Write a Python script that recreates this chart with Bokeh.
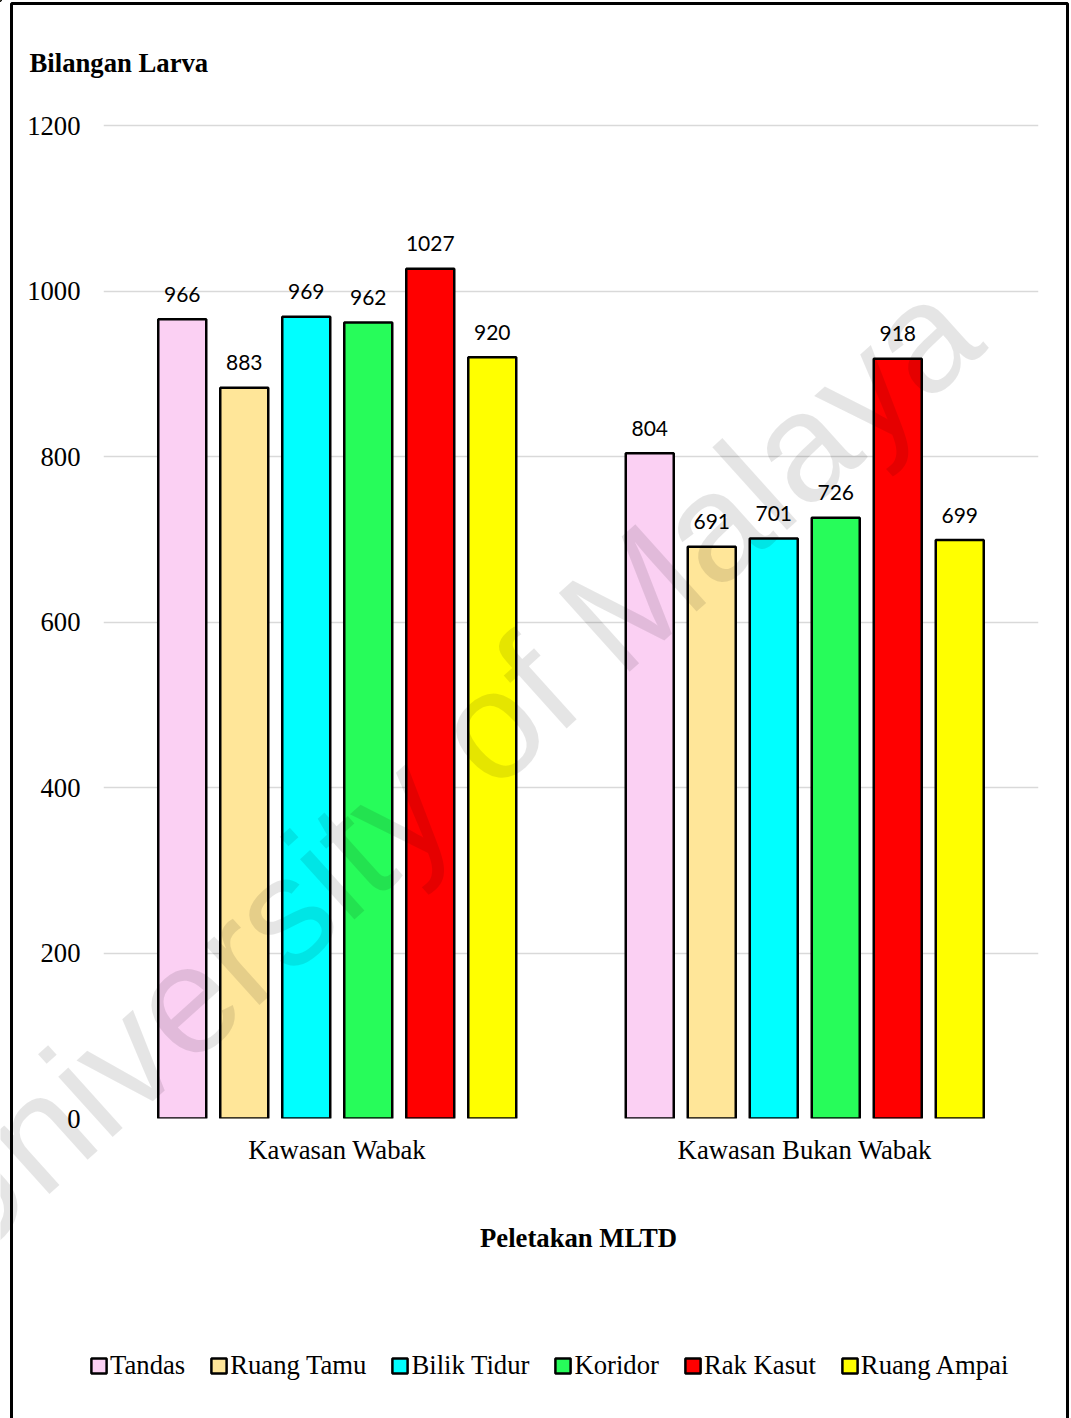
from bokeh.plotting import figure
from bokeh.models import (FactorRange, Range1d, Legend, LegendItem, FixedTicker,
                          ColumnDataSource)
from bokeh.transform import dodge
from bokeh.core.properties import value
from bokeh.embed import file_html
from bokeh.resources import INLINE

# ---- data ----
areas = ["Kawasan Wabak", "Kawasan Bukan Wabak"]
locations = ["Tandas", "Ruang Tamu", "Bilik Tidur", "Koridor", "Rak Kasut", "Ruang Ampai"]
tandas = [966, 804]
ruang_tamu = [883, 691]
bilik_tidur = [969, 701]
koridor = [962, 726]
rak_kasut = [1027, 918]
ruang_ampai = [920, 699]
y_ticks = [0, 200, 400, 600, 800, 1000, 1200]

series = [tandas, ruang_tamu, bilik_tidur, koridor, rak_kasut, ruang_ampai]
colors = ["#FBD0F3", "#FFE699", "#00FFFF", "#27FC5A", "#FF0000", "#FFFF00"]

SERIF = "Liberation Serif"
FS = "26.7px"
W, H = 1071, 1418
LEFT, RIGHT, TOP, BOTTOM = 103, 33, 123, 300
Y_MAX = 1200 + 2 / ((H - TOP - BOTTOM - 2) / 1200)

# ---- main chart ----
p = figure(width=W, height=H, x_range=FactorRange(*areas), y_range=Range1d(0, Y_MAX),
           output_backend="svg", toolbar_location=None,
           min_border_left=LEFT, min_border_right=RIGHT,
           min_border_top=TOP, min_border_bottom=BOTTOM)
p.outline_line_color = None
p.background_fill_color = "white"
p.border_fill_color = "white"

p.xgrid.grid_line_color = None
p.ygrid.grid_line_color = "#d9d9d9"
p.ygrid.grid_line_width = 1.5
p.ygrid.ticker = FixedTicker(ticks=y_ticks)

p.yaxis.ticker = FixedTicker(ticks=y_ticks)
p.yaxis.axis_line_color = None
p.yaxis.major_tick_line_color = None
p.yaxis.minor_tick_line_color = None
p.yaxis.major_label_text_font = SERIF
p.yaxis.major_label_text_font_size = FS
p.yaxis.major_label_text_color = "#000000"
p.yaxis.major_label_standoff = 17

p.xaxis.axis_line_color = None
p.xaxis.major_tick_line_color = None
p.xaxis.minor_tick_line_color = None
p.xaxis.major_label_text_font = SERIF
p.xaxis.major_label_text_font_size = FS
p.xaxis.major_label_text_color = "#000000"
p.xaxis.major_label_standoff = 10

cat_px = (W - LEFT - RIGHT) / len(areas)
step = 62 / cat_px
bar_w = 48 / cat_px
n = len(locations)
for i, (vals, col) in enumerate(zip(series, colors)):
    off = (i - (n - 1) / 2) * step
    src = ColumnDataSource(dict(area=areas, val=vals, lbl=[str(v) for v in vals]))
    p.vbar(x=dodge("area", off, range=p.x_range), top="val", width=bar_w, source=src,
           fill_color=col, line_color="#000000", line_width=2.5)
    p.text(x=dodge("area", off, range=p.x_range), y="val", text="lbl", source=src,
           text_align="center", text_baseline="alphabetic", y_offset=-25,
           text_font=value("Lato"), text_font_size="21px", text_color="#000000")

# ---- overlay: frame line, titles, legend, watermark (pixel coordinates) ----
q = figure(width=W, height=H, x_range=Range1d(0, W), y_range=Range1d(H, 0),
           output_backend="svg", toolbar_location=None,
           x_axis_type=None, y_axis_type=None,
           min_border=0, min_border_left=0, min_border_right=0,
           min_border_top=0, min_border_bottom=0)
q.outline_line_color = None
q.background_fill_alpha = 0
q.border_fill_alpha = 0
q.grid.visible = False
q.styles = {"position": "absolute", "left": "0px", "top": "0px", "pointer-events": "none"}

q.line(x=[11, 11, 1067, 1067], y=[H + 20, 3, 3, H + 20], line_color="#000000", line_width=3)

q.text(x=[29], y=[62], text=["Bilangan Larva"], text_font=value(SERIF),
       text_font_size=FS, text_font_style="bold", text_baseline="alphabetic",
       text_color="#000000")
q.text(x=[578], y=[1237], text=["Peletakan MLTD"], text_font=value(SERIF),
       text_font_size=FS, text_font_style="bold", text_align="center",
       text_baseline="alphabetic", text_color="#000000")

# legend swatches share the bar styling (one hidden bar each, off the canvas)
items = []
for name, col in zip(locations, colors):
    r = q.vbar(x=[-500], top=[-500], bottom=[-499], width=1, fill_color=col,
               line_color="#000000", line_width=2.5)
    items.append(LegendItem(label=name, renderers=[r]))
legend = Legend(items=items, orientation="horizontal", location=(89, H - 1381),
                glyph_width=19, glyph_height=19, label_standoff=2, spacing=24,
                padding=0, margin=0, border_line_color=None, background_fill_alpha=0,
                label_text_font=SERIF, label_text_font_size=FS,
                label_text_color="#000000")
q.add_layout(legend, "center")

q.text(x=[438], y=[772], text=["University of Malaya"], text_font=value("Liberation Sans"),
       text_font_size="154px", angle=42, angle_units="deg",
       text_align="center", text_baseline="middle",
       text_color="#000000", text_alpha=0.1)

open("out.html", "w").write(file_html([p, q], INLINE))
